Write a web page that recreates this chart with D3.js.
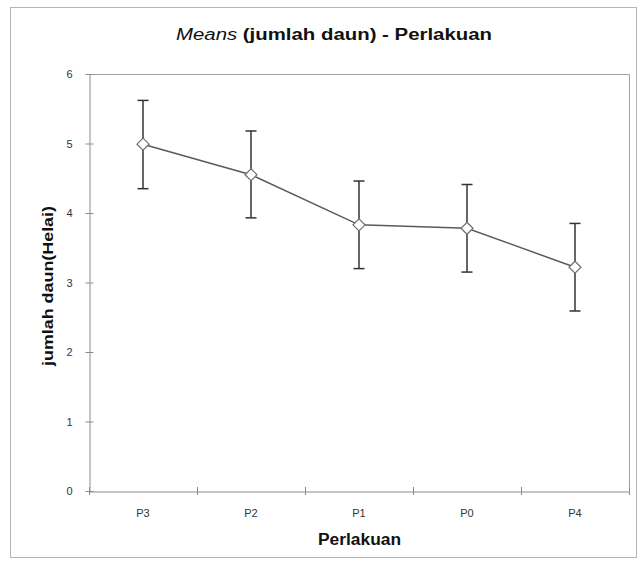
<!DOCTYPE html>
<html lang="id">
<head>
    <meta charset="utf-8" />
    <title>Means (jumlah daun) - Perlakuan</title>
    <script src="https://d3js.org/d3.v7.min.js"></script>
    <style>
        body { margin: 0; background: #fff; }
        .tick text { font-family: "Liberation Sans", Arial, sans-serif; font-size: 11px; fill: #333; }
    </style>
</head>
<body>
    <svg width="642" height="571"></svg>
    <script>
        // data
        var perlakuan = ["P3", "P2", "P1", "P0", "P4"];
        var means     = [4.99, 4.55, 3.83, 3.78, 3.22];
        var upper     = [5.62, 5.18, 4.46, 4.41, 3.85];
        var lower     = [4.35, 3.93, 3.20, 3.15, 2.59];
        var yTicks    = [0, 1, 2, 3, 4, 5, 6];

        var svg = d3.select("svg");

        // plot area edges (note: "top" is reserved on window)
        var plotLeft = 89, plotTop = 74, plotRight = 629, plotBottom = 491;

        // outer chart frame
        svg.append("rect")
            .attr("x", 10.5).attr("y", 7.5)
            .attr("width", 626).attr("height", 550)
            .attr("fill", "#fff")
            .attr("stroke", "#b5b5b5");

        var x = d3.scaleBand()
            .domain(perlakuan)
            .range([plotLeft, plotRight]);

        var y = d3.scaleLinear()
            .domain([0, 6])
            .range([plotBottom, plotTop]);

        // plot area border (top + right)
        svg.append("path")
            .attr("d", "M" + plotLeft + "," + (plotTop + 0.5) + "H" + (plotRight + 0.5) + "V" + plotBottom)
            .attr("fill", "none")
            .attr("stroke", "#a0a0a0");

        var xAxis = svg.append("g")
            .attr("transform", "translate(0," + (plotBottom + 0.5) + ")")
            .call(d3.axisBottom(x).tickSize(0).tickPadding(18));
        xAxis.select(".domain").attr("stroke", "#8c8c8c");

        // category boundary ticks (crossing the axis)
        svg.append("g").selectAll("line")
            .data(d3.range(perlakuan.length + 1))
            .enter().append("line")
            .attr("x1", function (i) { return plotLeft + i * x.step() + 0.5; })
            .attr("x2", function (i) { return plotLeft + i * x.step() + 0.5; })
            .attr("y1", plotBottom - 4)
            .attr("y2", plotBottom + 4)
            .attr("stroke", "#8c8c8c");

        var yAxis = svg.append("g")
            .attr("transform", "translate(" + (plotLeft + 0.5) + ",0)")
            .call(d3.axisLeft(y).tickValues(yTicks).tickFormat(d3.format("d")).tickSizeInner(4).tickSizeOuter(0).tickPadding(13));
        yAxis.select(".domain").attr("stroke", "#8c8c8c");
        yAxis.selectAll(".tick line").attr("x2", 4).attr("x1", -4).attr("stroke", "#8c8c8c");

        var cx = function (d, i) { return x(perlakuan[i]) + x.bandwidth() / 2; };

        // line through means
        var line = d3.line()
            .x(function (d, i) { return cx(d, i); })
            .y(function (d) { return y(d); });

        svg.append("path")
            .datum(means)
            .attr("d", line)
            .attr("fill", "none")
            .attr("stroke", "#5a5a5a")
            .attr("stroke-width", 1.5);

        // error bars
        var err = svg.append("g")
            .attr("stroke", "#333")
            .attr("stroke-width", 1.5);

        err.selectAll("line.v")
            .data(means)
            .enter().append("line")
            .attr("class", "v")
            .attr("x1", cx).attr("x2", cx)
            .attr("y1", function (d, i) { return y(upper[i]); })
            .attr("y2", function (d, i) { return y(lower[i]); });

        [upper, lower].forEach(function (arr) {
            err.append("g").selectAll("line")
                .data(arr)
                .enter().append("line")
                .attr("x1", function (d, i) { return cx(d, i) - 5.5; })
                .attr("x2", function (d, i) { return cx(d, i) + 5.5; })
                .attr("y1", function (d) { return y(d); })
                .attr("y2", function (d) { return y(d); });
        });

        // diamond markers
        svg.append("g").selectAll("path")
            .data(means)
            .enter().append("path")
            .attr("transform", function (d, i) { return "translate(" + cx(d, i) + "," + y(d) + ")"; })
            .attr("d", "M0,-6L6,0L0,6L-6,0Z")
            .attr("fill", "#fff")
            .attr("stroke", "#6e6e6e")
            .attr("stroke-width", 1.2);

        // title
        var title = svg.append("text")
            .attr("x", 176).attr("y", 40)
            .attr("textLength", 316)
            .attr("lengthAdjust", "spacingAndGlyphs")
            .style("font-family", "'Liberation Sans', Arial, sans-serif")
            .style("font-size", "16px")
            .style("fill", "#111");
        title.append("tspan").style("font-style", "italic").text("Means");
        title.append("tspan").style("font-weight", "bold").text(" (jumlah daun) - Perlakuan");

        // axis titles
        svg.append("text")
            .attr("x", 318).attr("y", 545)
            .attr("textLength", 83)
            .attr("lengthAdjust", "spacingAndGlyphs")
            .style("font-family", "'Liberation Sans', Arial, sans-serif")
            .style("font-size", "16px")
            .style("font-weight", "bold")
            .style("fill", "#111")
            .text("Perlakuan");

        svg.append("text")
            .attr("transform", "translate(53,286) rotate(-90)")
            .attr("text-anchor", "middle")
            .attr("textLength", 160)
            .attr("lengthAdjust", "spacingAndGlyphs")
            .style("font-family", "'Liberation Sans', Arial, sans-serif")
            .style("font-size", "15px")
            .style("font-weight", "bold")
            .style("fill", "#111")
            .text("jumlah daun(Helai)");
    </script>
</body>
</html>
